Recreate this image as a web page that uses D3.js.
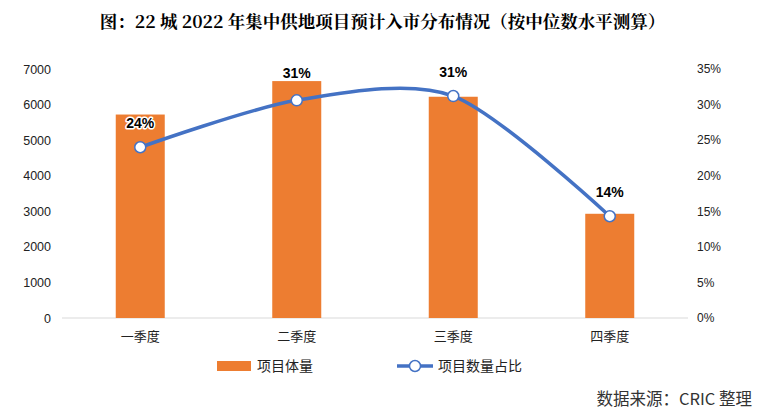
<!DOCTYPE html>
<html><head><meta charset="utf-8">
<script src="https://cdn.jsdelivr.net/npm/d3@7"></script>
<style>body{margin:0;background:#fff}svg{display:block}</style>
</head><body><svg id="c" width="765" height="417"></svg>
<script>
const categories = ["一季度", "二季度", "三季度", "四季度"];
const volumes = [5720, 6660, 6220, 2930];
const shares = [0.24, 0.306, 0.312, 0.143];
const shareLabels = ["24%", "31%", "31%", "14%"];
const leftTicks = [0, 1000, 2000, 3000, 4000, 5000, 6000, 7000];
const rightTicks = [0, 0.05, 0.10, 0.15, 0.20, 0.25, 0.30, 0.35];
const titleText = "图：22 城 2022 年集中供地项目预计入市分布情况（按中位数水平测算）";
const seriesNames = ["项目体量", "项目数量占比"];
const sourceText = "数据来源：CRIC 整理";

const svg = d3.select("#c");
const W = 765, H = 417;
const m = {left: 62, right: 77, top: 69, bottom: 99};
const x = d3.scaleBand().domain(categories).range([m.left, W - m.right]).paddingInner(0).paddingOuter(0);
const yL = d3.scaleLinear().domain([0, 7000]).range([H - m.bottom, m.top]);
const yR = d3.scaleLinear().domain([0, 0.35]).range([H - m.bottom, m.top]);
const sans = "Liberation Sans, Arial, sans-serif";
const cjk = "'Noto Sans CJK SC', sans-serif";

svg.append("text").attr("x", W / 2).attr("y", 28).attr("text-anchor", "middle")
  .attr("font-family", "'Noto Serif CJK SC','Noto Sans CJK SC', serif").attr("font-weight", "bold")
  .attr("font-size", 17.5).attr("fill", "#000").text(titleText);

// left axis
const gL = svg.append("g").attr("transform", `translate(${m.left},0)`)
  .call(d3.axisLeft(yL).tickValues(leftTicks).tickSize(0).tickPadding(11).tickFormat(d3.format("d")));
gL.select(".domain").remove();
gL.selectAll("text").attr("font-family", sans).attr("font-size", 12.5).attr("fill", "#222");

// right axis
const gR = svg.append("g").attr("transform", `translate(${W - m.right},0)`)
  .call(d3.axisRight(yR).tickValues(rightTicks).tickSize(0).tickPadding(9).tickFormat(d3.format(".0%")));
gR.select(".domain").remove();
gR.selectAll("text").attr("font-family", sans).attr("font-size", 12).attr("fill", "#222");

// baseline
svg.append("line").attr("x1", m.left).attr("x2", W - m.right)
  .attr("y1", yL(0)).attr("y2", yL(0)).attr("stroke", "#d9d9d9").attr("stroke-width", 1);

// x axis labels
const gX = svg.append("g").attr("transform", `translate(0,${yL(0)})`)
  .call(d3.axisBottom(x).tickSize(0).tickPadding(14));
gX.select(".domain").remove();
gX.selectAll("text").attr("font-family", cjk).attr("font-size", 13).attr("fill", "#222");

// bars
const bw = 49;
svg.append("g").selectAll("rect").data(volumes).join("rect")
  .attr("x", (d, i) => x(categories[i]) + x.bandwidth() / 2 - bw / 2)
  .attr("width", bw)
  .attr("y", d => yL(d)).attr("height", d => yL(0) - yL(d))
  .attr("fill", "#ED7D31");

// line
const pts = shares.map((s, i) => [x(categories[i]) + x.bandwidth() / 2, yR(s)]);
svg.append("path").datum(pts)
  .attr("d", d3.line().curve(d3.curveCardinal.tension(0.15)))
  .attr("fill", "none").attr("stroke", "#4472C4").attr("stroke-width", 3.5);
svg.append("g").selectAll("circle").data(pts).join("circle")
  .attr("cx", d => d[0]).attr("cy", d => d[1]).attr("r", 5.5)
  .attr("fill", "#fff").attr("stroke", "#4472C4").attr("stroke-width", 1.5);

// labels
svg.append("g").selectAll("text").data(pts).join("text")
  .attr("x", d => d[0]).attr("y", (d, i) => d[1] - (i === 1 ? 22 : 19))
  .attr("text-anchor", "middle").attr("font-family", sans).attr("font-weight", "bold")
  .attr("font-size", 14).attr("fill", "#000")
  .attr("stroke", "#fff").attr("stroke-width", 3).attr("paint-order", "stroke").attr("stroke-linejoin", "round")
  .text((d, i) => shareLabels[i]);

// legend
const lg = svg.append("g").attr("font-family", cjk).attr("font-size", 14).attr("fill", "#222");
lg.append("rect").attr("x", 217).attr("y", 361).attr("width", 34).attr("height", 10).attr("fill", "#ED7D31");
lg.append("text").attr("x", 257).attr("y", 371).text(seriesNames[0]);
lg.append("line").attr("x1", 397).attr("x2", 433).attr("y1", 366).attr("y2", 366)
  .attr("stroke", "#4472C4").attr("stroke-width", 3.5);
lg.append("circle").attr("cx", 415).attr("cy", 366).attr("r", 5.5)
  .attr("fill", "#fff").attr("stroke", "#4472C4").attr("stroke-width", 1.5);
lg.append("text").attr("x", 438).attr("y", 371).text(seriesNames[1]);

svg.append("text").attr("x", 752).attr("y", 405).attr("text-anchor", "end")
  .attr("font-family", cjk).attr("font-size", 16.5).attr("fill", "#333").text(sourceText);
</script></body></html>
